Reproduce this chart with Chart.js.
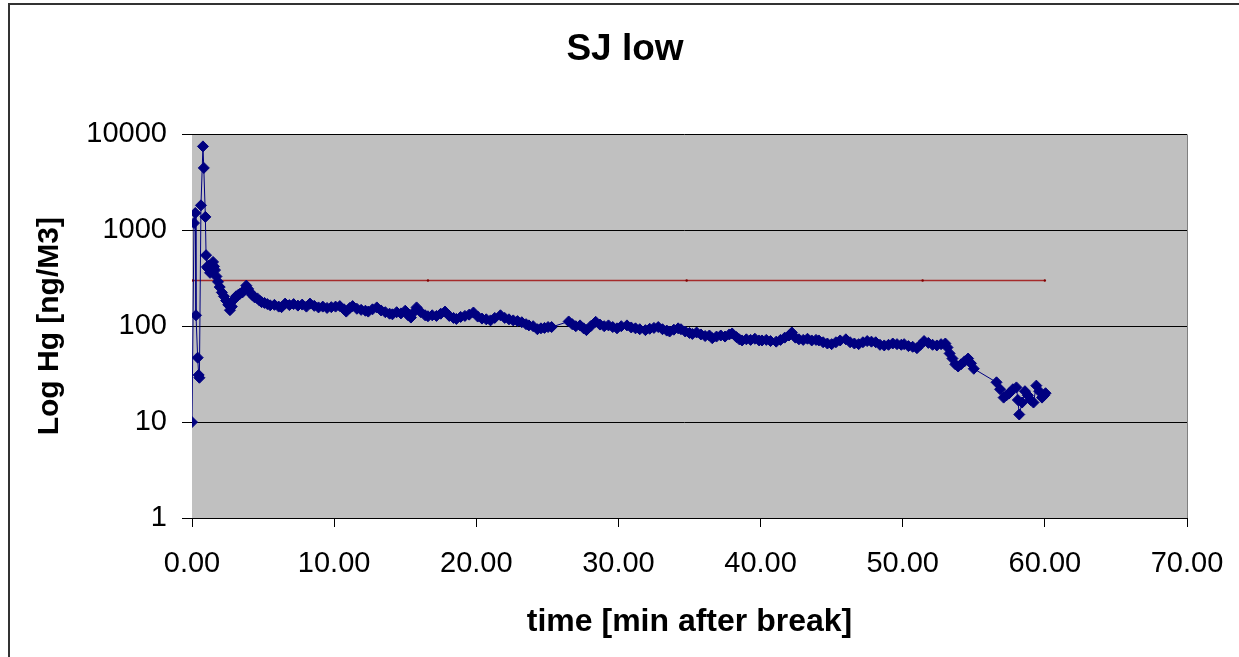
<!DOCTYPE html>
<html>
<head>
<meta charset="utf-8">
<script src="https://cdn.jsdelivr.net/npm/chart.js@4.4.1/dist/chart.umd.min.js"></script>
<style>
  html, body { margin: 0; padding: 0; background: #ffffff; }
</style>
</head>
<body>
<canvas id="chart" width="1239" height="657"></canvas>
<script>
// time after break [min]
const times = [
  0.00, 0.14, 0.23, 0.28, 0.40, 0.47, 0.52, 0.63, 0.77, 0.83, 0.94, 0.99,
  1.05, 1.13, 1.20, 1.27, 1.35, 1.48, 1.55, 1.62, 1.72, 1.83, 1.95, 2.10,
  2.25, 2.40, 2.55, 2.67, 2.80, 2.96, 3.10, 3.25, 3.38, 3.55, 3.70, 3.82,
  3.95, 4.10, 4.25, 4.40, 4.60, 4.75, 4.90, 5.10, 5.30, 5.50, 5.80, 6.10,
  6.30, 6.55, 6.85, 7.15, 7.45, 7.75, 8.05, 8.30, 8.60, 8.90, 9.20, 9.50,
  9.80, 10.10, 10.40, 10.70, 10.85, 11.10, 11.30, 11.60, 11.90, 12.20, 12.40, 12.70,
  13.00, 13.30, 13.60, 13.90, 14.10, 14.40, 14.70, 15.00, 15.20, 15.40, 15.60, 15.80,
  16.10, 16.40, 16.60, 16.90, 17.20, 17.50, 17.80, 18.10, 18.40, 18.60, 18.90, 19.20,
  19.50, 19.80, 20.10, 20.40, 20.70, 21.00, 21.30, 21.70, 22.00, 22.30, 22.60, 22.90,
  23.20, 23.50, 23.70, 24.00, 24.30, 24.55, 24.80, 25.05, 25.30,
  26.50, 26.75, 27.00, 27.30, 27.55, 27.75, 28.05, 28.40, 28.70, 29.00, 29.30, 29.60,
  29.90, 30.20, 30.60, 30.90, 31.20, 31.50, 31.90, 32.20, 32.50, 32.80, 33.10, 33.40,
  33.60, 33.90, 34.20, 34.40, 34.70, 35.00, 35.20, 35.50, 35.80, 36.10, 36.40, 36.60,
  36.90, 37.20, 37.50, 37.80, 38.00, 38.30, 38.50, 38.70, 39.00, 39.30, 39.60, 39.90,
  40.10, 40.40, 40.70, 41.10, 41.40, 41.70, 42.00, 42.20, 42.45, 42.70, 43.00, 43.30,
  43.60, 43.90, 44.10, 44.40, 44.70, 45.00, 45.30, 45.60, 46.00, 46.30, 46.60, 46.90,
  47.20, 47.50, 47.80, 48.10, 48.40, 48.70, 49.00, 49.30, 49.60, 49.90, 50.10, 50.40,
  50.70, 51.00, 51.25, 51.50, 51.80, 52.10, 52.40, 52.70, 53.00, 53.15, 53.30, 53.50,
  53.70, 53.90, 54.10, 54.35, 54.60, 54.80, 55.00,
  56.60, 56.85, 57.10, 57.30, 57.50, 57.75, 58.00, 58.10, 58.20, 58.40, 58.60, 58.80,
  59.00, 59.20, 59.40, 59.60, 59.80, 59.95, 60.05
];

// Hg concentration [ng/M3]
const hg = [
  10, 1190, 1515, 130, 47, 31, 29, 1820, 7500, 4470, 1380, 550,
  415, 400, 430, 360, 390, 468, 420, 385, 330, 290, 256, 225,
  205, 185, 167, 147, 160, 190, 205, 212, 218, 225, 240, 265,
  245, 225, 210, 200, 195, 185, 178, 175, 170, 165, 167, 160,
  158, 172, 166, 170, 164, 168, 160, 172, 163, 157, 160, 155,
  158, 160, 162, 150, 142, 155, 162, 152, 148, 145, 142, 150,
  157, 146, 140, 135, 133, 140, 136, 145, 130, 123, 140, 157,
  140, 130, 127, 130, 128, 135, 142, 128, 122, 119, 125, 128,
  132, 139, 126, 120, 118, 115, 122, 130, 122, 118, 115, 113,
  110, 105, 102, 100, 93, 95, 96, 98, 98,
  112, 105, 100, 102, 95, 91, 100, 111, 104, 100, 102, 98,
  95, 100, 102, 97, 95, 93, 91, 94, 96, 98, 93, 90,
  88, 92, 95, 93, 88, 85, 83, 86, 82, 79, 80, 75,
  78, 80, 78, 82, 84, 77, 73, 71, 73, 72, 74, 71,
  71, 72, 70, 69, 72, 76, 80, 86, 76, 73, 72, 74,
  71, 72, 71, 68, 66, 65, 68, 71, 73, 68, 66, 65,
  68, 70, 69, 68, 64, 63, 64, 66, 65, 64, 65, 62,
  61, 59, 64, 70, 67, 64, 63, 65, 66, 60, 52, 46,
  40, 38, 40, 43, 46, 41, 36,
  26, 22, 18, 19, 20, 22, 23, 17, 12, 16, 21, 19,
  17, 16, 24, 21, 18, 19, 20
];

// reference level
const limitTimes = [0, 16.6, 34.8, 51.4, 60];
const limitValues = [300, 300, 300, 300, 300];

const yTicks = [1, 10, 100, 1000, 10000];

const FONT = "'Liberation Sans', Arial, sans-serif";

// grauer Plotbereich + Rahmen
const excelFrame = {
  id: 'excelFrame',
  beforeDatasetsDraw(chart) {
    const { ctx, chartArea: a } = chart;
    ctx.save();
    ctx.fillStyle = '#c0c0c0';
    ctx.fillRect(a.left, a.top, a.right - a.left, a.bottom - a.top);
    ctx.strokeStyle = '#808080';
    ctx.lineWidth = 1;
    ctx.beginPath();
    ctx.moveTo(a.right + 0.5, a.top);
    ctx.lineTo(a.right + 0.5, a.bottom);
    ctx.stroke();
    // redraw horizontal grid over the fill
    ctx.strokeStyle = '#000000';
    const y = chart.scales.y;
    yTicks.forEach((v) => {
      const py = Math.round(y.getPixelForValue(v)) + 0.5;
      ctx.beginPath();
      ctx.moveTo(a.left - 10, py);
      ctx.lineTo(a.right, py);
      ctx.stroke();
    });
    ctx.restore();
  },
  afterDraw(chart) {
    const { ctx, width, height } = chart;
    ctx.save();
    ctx.strokeStyle = '#333333';
    ctx.lineWidth = 2;
    ctx.beginPath();
    ctx.moveTo(width, 4);
    ctx.lineTo(9, 4);
    ctx.lineTo(9, height);
    ctx.stroke();
    ctx.restore();
  }
};

new Chart(document.getElementById('chart'), {
  type: 'line',
  data: {
    datasets: [
      {
        label: 'Hg',
        data: times.map((t, i) => ({ x: t, y: hg[i] })),
        borderColor: '#000080',
        backgroundColor: '#000080',
        borderWidth: 1,
        pointStyle: 'rectRot',
        pointRadius: 5.5,
        pointBorderWidth: 1,
        tension: 0,
      },
      {
        label: 'limit',
        data: limitTimes.map((t, i) => ({ x: t, y: limitValues[i] })),
        borderColor: '#a52a2a',
        backgroundColor: '#800000',
        borderWidth: 1.5,
        pointRadius: 1.2,
        pointBorderWidth: 0,
        tension: 0,
      },
    ],
  },
  options: {
    responsive: false,
    animation: false,
    devicePixelRatio: 1,
    layout: { padding: { left: 11, right: 0, top: 0, bottom: 0 } },
    plugins: {
      legend: { display: false },
      tooltip: { enabled: false },
      title: {
        display: true,
        text: 'SJ low',
        color: '#000000',
        font: { family: FONT, size: 37, weight: 'bold' },
        padding: { top: 28, bottom: 62 },
      },
    },
    scales: {
      x: {
        type: 'linear',
        min: 0,
        max: 70,
        afterFit: (s) => {
          s.height = 139;
          s.paddingRight = 52;
        },
        ticks: {
          stepSize: 10,
          color: '#000000',
          padding: 20,
          maxRotation: 0,
          font: { family: FONT, size: 29 },
          callback: (v) => Number(v).toFixed(2),
        },
        grid: { drawOnChartArea: false, drawTicks: true, tickLength: 9, color: '#000000' },
        border: { display: true, color: '#000000', width: 1 },
        title: {
          display: true,
          text: 'time [min after break]',
          color: '#000000',
          font: { family: FONT, size: 32, weight: 'bold' },
          padding: { top: 0, bottom: 16 },
        },
      },
      y: {
        type: 'logarithmic',
        min: 1,
        max: 10000,
        afterFit: (s) => { s.width = 181; },
        afterBuildTicks: (s) => { s.ticks = yTicks.map((v) => ({ value: v })); },
        ticks: {
          color: '#000000',
          padding: 15,
          font: { family: FONT, size: 29 },
          callback: (v) => String(v),
        },
        grid: { drawOnChartArea: false, drawTicks: true, tickLength: 10, color: '#000000' },
        border: { display: true, color: '#000000', width: 1 },
        title: {
          display: true,
          text: 'Log Hg [ng/M3]',
          color: '#000000',
          font: { family: FONT, size: 30, weight: 'bold' },
          padding: { top: 21, bottom: 0 },
        },
      },
    },
  },
  plugins: [excelFrame],
});
</script>
</body>
</html>
